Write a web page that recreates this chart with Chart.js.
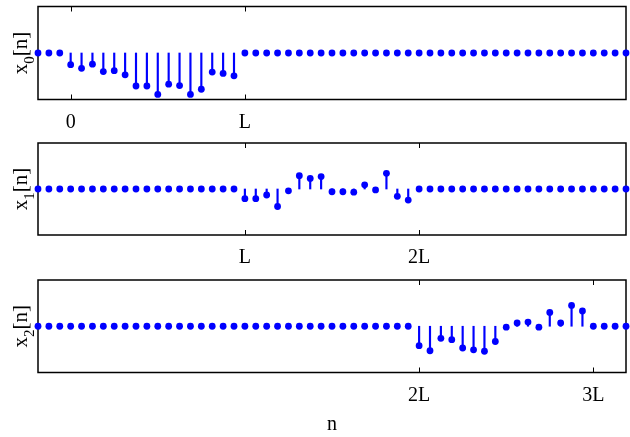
<!DOCTYPE html>
<html>
<head>
<meta charset="utf-8">
<script src="https://cdn.jsdelivr.net/npm/chart.js@4.4.1/dist/chart.umd.min.js"></script>
<style>
  body { margin: 0; background: #fff; }
  #wrap { position: relative; width: 630px; height: 437px; background: #fff; }
  #wrap canvas { position: absolute; left: 0; }
</style>
</head>
<body>
<div id="wrap">
  <canvas id="c0" width="630" height="136" style="top:0px"></canvas>
  <canvas id="c1" width="630" height="136" style="top:136px"></canvas>
  <canvas id="c2" width="630" height="165" style="top:272px"></canvas>
</div>
<script>
    // sample index range shown on every panel
    const nStart = -3;
    const nEnd = 51;
    const L = 16;

    // the non-zero block of each signal (L samples each)
    const seg0 = [-0.25, -0.33, -0.24, -0.40, -0.38, -0.47, -0.71, -0.71, -0.89, -0.67, -0.70, -0.89, -0.78, -0.41, -0.44, -0.49];
    const seg1 = [-0.21, -0.21, -0.13, -0.38, -0.04, 0.29, 0.23, 0.27, -0.06, -0.06, -0.07, 0.09, -0.02, 0.34, -0.16, -0.24];
    const seg2 = [-0.42, -0.53, -0.26, -0.29, -0.47, -0.51, -0.54, -0.33, -0.02, 0.07, 0.09, -0.02, 0.30, 0.07, 0.45, 0.33];

    // tick positions and their labels
    const ticks0 = [0, L];
    const ticks1 = [L, 2 * L];
    const ticks2 = [2 * L, 3 * L];
    const tickNames = { 0: '0', 16: 'L', 32: '2L', 48: '3L' };

    const blue = '#0000ff';
    const serif = '"Liberation Serif", "Times New Roman", serif';

    // block sits at n = start .. start+L-1, zero elsewhere
    function buildSeries(seg, start) {
        const pts = [];
        for (let n = nStart; n <= nEnd; n++) {
            const k = n - start;
            pts.push({ x: n, y: (k >= 0 && k < seg.length) ? seg[k] : 0 });
        }
        return pts;
    }

    // box, inward tick marks and the subscripted y label
    const framePlugin = {
        id: 'frame',
        beforeDatasetsDraw(chart, args, opts) {
            const { ctx, chartArea: a } = chart;
            const x = chart.scales.x;
            ctx.save();
            ctx.strokeStyle = '#000';
            ctx.lineWidth = 1.5;
            ctx.strokeRect(a.left, a.top, a.right - a.left, a.bottom - a.top);
            ctx.lineWidth = 1;
            x.ticks.forEach(t => {
                const px = Math.round(x.getPixelForValue(t.value)) + 0.5;
                ctx.beginPath();
                ctx.moveTo(px, a.top);
                ctx.lineTo(px, a.top + 5);
                ctx.moveTo(px, a.bottom);
                ctx.lineTo(px, a.bottom - 5);
                ctx.stroke();
            });
            ctx.restore();
        },
        afterDraw(chart, args, opts) {
            const { ctx, chartArea: a } = chart;
            const mainFont = '21px ' + serif;
            const subFont = '15px ' + serif;
            ctx.save();
            ctx.fillStyle = '#000';
            ctx.font = mainFont;
            const w1 = ctx.measureText('x').width;
            const w3 = ctx.measureText('[n]').width;
            ctx.font = subFont;
            const w2 = ctx.measureText(opts.sub).width;
            const total = w1 + w2 + w3;
            ctx.translate(27, (a.top + a.bottom) / 2);
            ctx.rotate(-Math.PI / 2);
            ctx.textBaseline = 'alphabetic';
            let pos = -total / 2;
            ctx.font = mainFont;
            ctx.fillText('x', pos, 0);
            pos += w1;
            ctx.font = subFont;
            ctx.fillText(opts.sub, pos, 7);
            pos += w2;
            ctx.font = mainFont;
            ctx.fillText('[n]', pos, 0);
            ctx.restore();
        }
    };

    function makePanel(id, seg, start, tickVals, sub, pad, axisH, showN) {
        const data = buildSeries(seg, start);
        return new Chart(document.getElementById(id), {
            type: 'bar',
            data: {
                datasets: [{
                    type: 'bar',
                    data: data,
                    backgroundColor: blue,
                    barThickness: 1.5,
                    clip: false
                }, {
                    type: 'line',
                    data: data,
                    showLine: false,
                    pointRadius: 3.4,
                    pointBackgroundColor: blue,
                    pointBorderWidth: 0,
                    clip: false
                }]
            },
            options: {
                responsive: false,
                animation: false,
                events: [],
                layout: { padding: { left: 38, right: 0.7, top: pad, bottom: 0 } },
                plugins: {
                    legend: { display: false },
                    tooltip: { enabled: false },
                    frame: { sub: sub }
                },
                scales: {
                    x: {
                        type: 'linear',
                        min: nStart,
                        max: nEnd,
                        offset: false,
                        grid: { display: false },
                        border: { display: false },
                        afterBuildTicks: s => { s.ticks = tickVals.map(v => ({ value: v })); },
                        afterFit: s => { s.height = axisH; },
                        ticks: {
                            autoSkip: false,
                            maxRotation: 0,
                            padding: 3,
                            color: '#000',
                            font: { family: serif, size: 20 },
                            callback: v => tickNames[v]
                        },
                        title: {
                            display: showN,
                            text: 'n',
                            color: '#000',
                            font: { family: serif, size: 20 },
                            padding: { top: 0, bottom: 0 }
                        }
                    },
                    y: {
                        display: false,
                        min: -1,
                        max: 1
                    }
                }
            },
            plugins: [framePlugin]
        });
    }

    makePanel('c0', seg0, 0, ticks0, '0', 6.5, 36.5, false);
    makePanel('c1', seg1, L, ticks1, '1', 7, 37, false);
    makePanel('c2', seg2, 2 * L, ticks2, '2', 8, 64.5, true);
</script>
</body>
</html>
